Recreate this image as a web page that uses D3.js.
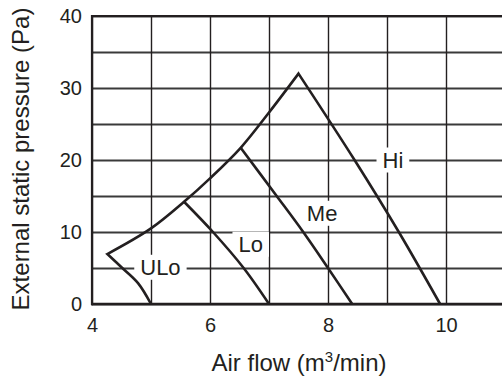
<!DOCTYPE html>
<html>
<head>
<meta charset="utf-8">
<script src="https://cdn.jsdelivr.net/npm/d3@7"></script>
<style>
  html, body { margin: 0; padding: 0; background: #fff; }
  svg { display: block; }
  text { font-family: "Liberation Sans", Arial, sans-serif; fill: #231f20; }
</style>
</head>
<body>
<svg id="chart" width="502" height="380"></svg>
<script>
// Fan curves: air flow (m3/min) against external static pressure (Pa)
const envelopeFlow = [4.26, 5.0, 5.56, 6.0, 6.52, 7.0, 7.5];
const envelopePa   = [6.94, 10.5, 14.2, 17.45, 21.7, 26.6, 32.0];

const uloFlow = [4.26, 4.5, 4.78, 5.0];
const uloPa   = [6.94, 5.1, 2.9, 0];

const loFlow = [5.56, 6.05, 6.57, 7.0];
const loPa   = [14.2, 10.0, 5.0, 0];

const meFlow = [6.52, 7.13, 7.58, 8.0, 8.41];
const mePa   = [21.7, 15.0, 10.0, 5.0, 0];

const hiFlow = [7.5, 8.45, 9.2, 9.9];
const hiPa   = [32.0, 20.0, 10.0, 0];

// Speed labels and the point each one sits on
const labelNames = ["Hi", "Me", "Lo", "ULo"];
const labelFlow  = [9.1, 7.9, 6.69, 5.16];
const labelPa    = [20.0, 12.6, 8.3, 5.1];

const xTicks = [4, 5, 6, 7, 8, 9, 10, 11];
const xTickLabels = ["4", "", "6", "", "8", "", "10", ""];
const yTicks = [0, 5, 10, 15, 20, 25, 30, 35, 40];
const yTickLabels = ["0", "", "10", "", "20", "", "30", "", "40"];

const xTitle = "Air flow (m";
const xTitleSup = "3";
const xTitleEnd = "/min)";
const yTitle = "External static pressure (Pa)";

const svg = d3.select("#chart");
const plotL = 92, plotR = 505, plotT = 16, plotB = 304;

const x = d3.scaleLinear().domain([4, 11]).range([plotL, plotR]);
const y = d3.scaleLinear().domain([0, 40]).range([plotB, plotT]);

const zip = (xs, ys) => xs.map((v, i) => [v, ys[i]]);

// Horizontal grid
const yAxis = d3.axisLeft(y).tickValues(yTicks)
  .tickSize(-(plotR - plotL)).tickPadding(10)
  .tickFormat((d, i) => yTickLabels[i]);
const gy = svg.append("g").attr("transform", `translate(${plotL},0)`).call(yAxis);
gy.select(".domain").remove();
gy.selectAll(".tick line").attr("stroke", "#3a3a3a").attr("stroke-width", 1.8);
gy.selectAll(".tick text").attr("font-size", 20).attr("fill", "#231f20");

// Vertical grid
const xAxis = d3.axisBottom(x).tickValues(xTicks)
  .tickSize(-(plotB - plotT)).tickPadding(14)
  .tickFormat((d, i) => xTickLabels[i]);
const gx = svg.append("g").attr("transform", `translate(0,${plotB})`).call(xAxis);
gx.select(".domain").remove();
gx.selectAll(".tick line").attr("stroke", "#231f20").attr("stroke-width", 1.4);
gx.selectAll(".tick text").attr("font-size", 20).attr("fill", "#231f20");

// Frame: left, bottom, top
svg.append("line").attr("x1", plotL).attr("x2", plotL).attr("y1", plotT - 1).attr("y2", plotB + 1.2)
  .attr("stroke", "#231f20").attr("stroke-width", 2.2);
svg.append("line").attr("x1", plotL - 1).attr("x2", 502).attr("y1", plotB).attr("y2", plotB)
  .attr("stroke", "#231f20").attr("stroke-width", 2.6);
svg.append("line").attr("x1", plotL - 1).attr("x2", 502).attr("y1", plotT).attr("y2", plotT)
  .attr("stroke", "#231f20").attr("stroke-width", 2.2);

// Labels with white boxes that interrupt the grid
const labels = svg.append("g");
labelNames.forEach((name, i) => {
  const t = labels.append("text")
    .attr("x", x(labelFlow[i])).attr("y", y(labelPa[i]))
    .attr("text-anchor", "middle").attr("dominant-baseline", "central")
    .attr("font-size", 22).text(name);
  const b = t.node().getBBox();
  labels.insert("rect", "text")
    .attr("x", b.x - 6).attr("y", b.y)
    .attr("width", b.width + 12).attr("height", b.height)
    .attr("fill", "#fff");
});

// Curves
const line = d3.line().x(d => x(d[0])).y(d => y(d[1])).curve(d3.curveCatmullRom.alpha(0.5));
const join = (...parts) => parts.map((p, i) => {
  const s = line(p);
  return i === 0 ? s : s.replace(/^M/, "L");
}).join("");

const curveStyle = sel => sel.attr("fill", "none").attr("stroke", "#231f20")
  .attr("stroke-width", 2.6).attr("stroke-linejoin", "miter").attr("stroke-miterlimit", 10);

// Outer outline: ULo up to the tip, along the envelope, down the Hi curve
svg.append("path")
  .attr("d", join(zip(uloFlow, uloPa).reverse(), zip(envelopeFlow, envelopePa), zip(hiFlow, hiPa)))
  .call(curveStyle);
svg.append("path").attr("d", line(zip(loFlow, loPa))).call(curveStyle);
svg.append("path").attr("d", line(zip(meFlow, mePa))).call(curveStyle);

// Axis titles
const xt = svg.append("text").attr("x", 299).attr("y", 371)
  .attr("text-anchor", "middle").attr("font-size", 24);
xt.append("tspan").text(xTitle);
xt.append("tspan").attr("font-size", 15).attr("dy", -9).text(xTitleSup);
xt.append("tspan").attr("dy", 9).text(xTitleEnd);

svg.append("text")
  .attr("transform", `translate(28.5,159) rotate(-90)`)
  .attr("text-anchor", "middle").attr("font-size", 24)
  .text(yTitle);
</script>
</body>
</html>
